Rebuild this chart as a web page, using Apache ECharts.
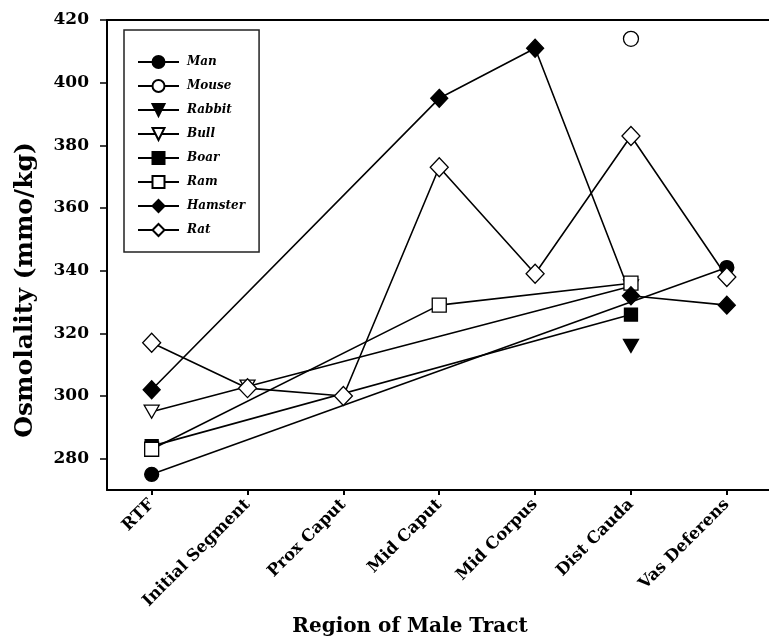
<!DOCTYPE html>
<html>
<head>
<meta charset="utf-8">
<script src="https://cdn.jsdelivr.net/npm/echarts@6/dist/echarts.min.js"></script>
<style>
  html, body { margin: 0; padding: 0; background: #fff; }
  #main { width: 769px; height: 640px; }
</style>
</head>
<body>
<div id="main"></div>
<script>
// regions along the male tract (x categories)
var categories = ["RTF", "Initial Segment", "Prox Caput", "Mid Caput", "Mid Corpus", "Dist Cauda", "Vas Deferens"];
var yTicks = [280, 300, 320, 340, 360, 380, 400, 420];

// osmolality (mmo/kg) per species, null = not measured
var man     = [275, null, null, null, null, null, 341];
var mouse   = [null, null, null, null, null, 414, null];
var rabbit  = [null, null, null, null, null, 316, null];
var bull    = [295, 303, null, null, null, 335, null];
var boar    = [284, null, null, null, null, 326, null];
var ram     = [283, null, null, 329, null, 336, null];
var hamster = [302, null, null, 395, 411, 332, 329];
var rat     = [317, 302.5, 300, 373, 339, 383, 338];

var serif = "DejaVu Serif";

function pairs(arr) {
  var out = [];
  arr.forEach(function (v, i) {
    if (v !== null) out.push([i, v]);
  });
  return out;
}

function makeSeries(name, values, symbol, size, filled, rotate) {
  return {
    name: name,
    type: "line",
    data: pairs(values),
    symbol: symbol,
    symbolSize: size,
    symbolRotate: rotate || 0,
    showAllSymbol: true,
    lineStyle: { color: "#000", width: 1.6 },
    itemStyle: {
      color: filled ? "#000" : "#fff",
      borderColor: "#000",
      borderWidth: 1.3,
      opacity: 1
    },
    emphasis: { disabled: true }
  };
}

var chart = echarts.init(document.getElementById("main"));
chart.setOption({
  animation: false,
  backgroundColor: "#fff",
  grid: { left: 107, right: 0, top: 20, bottom: 150, containLabel: false, outerBoundsMode: "none" },
  legend: {
    orient: "vertical",
    left: 124,
    top: 30,
    padding: [25, 14, 15, 13],
    itemWidth: 41,
    itemHeight: 15,
    itemGap: 10,
    borderColor: "#222",
    borderWidth: 1.5,
    backgroundColor: "#fff",
    textStyle: {
      fontFamily: serif,
      fontStyle: "italic",
      fontWeight: "bold",
      fontSize: 12,
      color: "#000",
      padding: [0, 0, 0, 3]
    },
    data: ["Man", "Mouse", "Rabbit", "Bull", "Boar", "Ram", "Hamster", "Rat"]
  },
  xAxis: [
    {
      type: "value",
      min: -0.466,
      max: 6.44,
      splitLine: { show: false },
      axisLine: { show: true, onZero: false, lineStyle: { color: "#000", width: 2 } },
      axisTick: { show: true, length: 5, customValues: [0, 1, 2, 3, 4, 5, 6], lineStyle: { color: "#000", width: 2 } },
      axisLabel: {
        customValues: [0, 1, 2, 3, 4, 5, 6],
        formatter: function (v) { return categories[v]; },
        rotate: 45,
        margin: 12,
        fontFamily: serif,
        fontWeight: "bold",
        fontSize: 16.5,
        color: "#000"
      },
      name: "Region of Male Tract",
      nameLocation: "middle",
      nameGap: 124,
      nameTextStyle: {
        fontFamily: serif,
        fontWeight: "bold",
        fontSize: 20,
        color: "#000",
        padding: [0, 56, 0, 0]
      }
    },
    {
      type: "value",
      position: "top",
      min: -0.466,
      max: 6.44,
      splitLine: { show: false },
      axisLine: { show: true, onZero: false, lineStyle: { color: "#000", width: 2 } },
      axisTick: { show: false },
      axisLabel: { show: false }
    }
  ],
  yAxis: {
    type: "value",
    min: 270,
    max: 420,
    splitLine: { show: false },
    axisLine: { show: true, onZero: false, lineStyle: { color: "#000", width: 2 } },
    axisTick: { show: true, length: 7, customValues: yTicks, lineStyle: { color: "#000", width: 1.5 } },
    axisLabel: {
      customValues: yTicks,
      margin: 18,
      fontFamily: serif,
      fontWeight: "bold",
      fontSize: 17,
      color: "#000"
    },
    name: "Osmolality (mmo/kg)",
    nameLocation: "middle",
    nameGap: 69,
    nameTextStyle: {
      fontFamily: serif,
      fontWeight: "bold",
      fontSize: 25,
      color: "#000",
      padding: [0, 70, 0, 0]
    }
  },
  series: [
    makeSeries("Man", man, "circle", 14, true),
    makeSeries("Mouse", mouse, "circle", 15, false),
    makeSeries("Rabbit", rabbit, "triangle", [15, 13], true, 180),
    makeSeries("Bull", bull, "triangle", [15, 13], false, 180),
    makeSeries("Boar", boar, "rect", 13, true),
    makeSeries("Ram", ram, "rect", 14, false),
    makeSeries("Hamster", hamster, "diamond", [17, 18], true),
    makeSeries("Rat", rat, "diamond", [18, 19], false)
  ]
});
</script>
</body>
</html>
